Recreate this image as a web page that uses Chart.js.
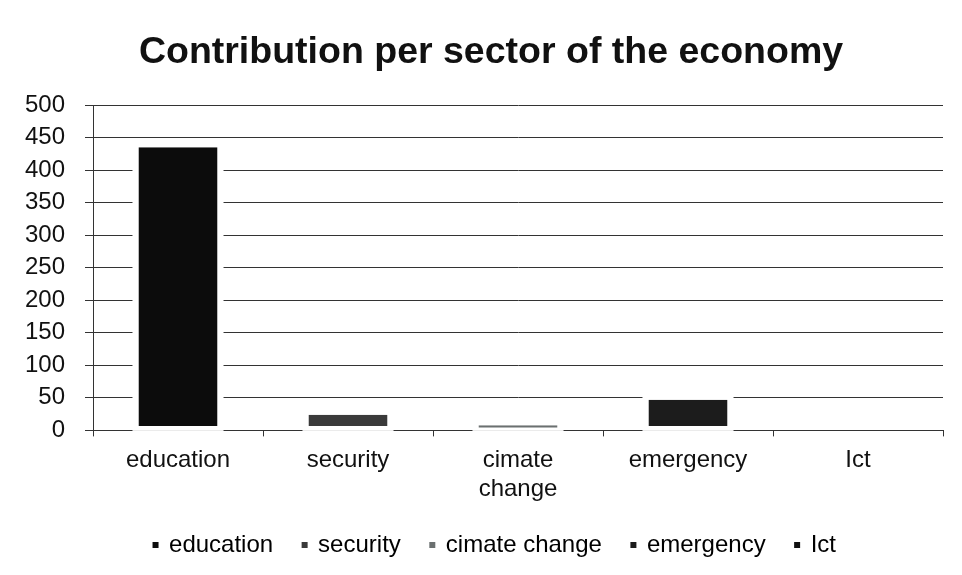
<!DOCTYPE html>
<html>
<head>
<meta charset="utf-8">
<script src="https://cdn.jsdelivr.net/npm/chart.js@4.4.1/dist/chart.umd.min.js"></script>
<style>
  html, body { margin: 0; padding: 0; background: #fff; }
  #wrap { width: 962px; height: 575px; }
</style>
</head>
<body>
<div id="wrap"><canvas id="grafico"></canvas></div>
<script>
const sectors = ["education", "security", "cimate change", "emergency", "Ict"];
const tickLabels = ["education", "security", ["cimate", "change"], "emergency", "Ict"];
const contribution = [435, 24, 8, 47, 0];
const barColors = ["#0c0c0c", "#3a3a3a", "#6b7070", "#1c1c1c", "#111111"];

const fuente = "'Liberation Sans', Arial, sans-serif";

// white gap round each bar, hides the grid lines like the original
const barHalo = {
    id: "barHalo",
    beforeDatasetsDraw(chart) {
        const ctx = chart.ctx;
        const meta = chart.getDatasetMeta(0);
        ctx.save();
        ctx.fillStyle = "#ffffff";
        meta.data.forEach(el => {
            const { x, y, base, width } = el.getProps(["x", "y", "base", "width"], true);
            if (base - y < 1) return;
            ctx.fillRect(x - width / 2 - 6, y - 6, width + 12, base - y + 7);
        });
        ctx.restore();
    }
};

// small shifts of title and legend so they sit where the original has them
const nudge = {
    id: "nudge",
    afterLayout(chart) {
        if (chart.titleBlock) {
            chart.titleBlock.left += 7;
            chart.titleBlock.right += 7;
        }
        if (chart.legend) {
            chart.legend.left += 11;
            chart.legend.right += 11;
            chart.legend.top -= 11;
            chart.legend.bottom -= 11;
        }
    }
};

new Chart(document.getElementById("grafico"), {
    type: "bar",
    data: {
        labels: tickLabels,
        datasets: [{
            label: "Contribution",
            data: contribution,
            backgroundColor: barColors,
            borderColor: "#ffffff",
            borderWidth: { top: 0, left: 0, right: 0, bottom: 4 },
            borderSkipped: false,
            categoryPercentage: 1,
            barPercentage: 0.465
        }]
    },
    options: {
        responsive: true,
        maintainAspectRatio: false,
        animation: false,
        layout: { padding: { left: 25, right: 19, top: 0, bottom: -3 } },
        plugins: {
            title: {
                display: true,
                text: "Contribution per sector of the economy",
                color: "#111",
                font: { family: fuente, size: 37.5, weight: "bold" },
                padding: { top: 30, bottom: 30 }
            },
            legend: {
                position: "bottom",
                labels: {
                    color: "#111",
                    font: { family: fuente, size: 24 },
                    usePointStyle: true,
                    pointStyle: "rect",
                    boxWidth: 3,
                    boxHeight: 6,
                    padding: 30,
                    generateLabels: () => sectors.map((s, i) => ({
                        text: s,
                        fillStyle: barColors[i],
                        strokeStyle: barColors[i],
                        lineWidth: 0,
                        pointStyle: "rect",
                        hidden: false,
                        index: i
                    }))
                }
            },
            tooltip: { enabled: false }
        },
        scales: {
            x: {
                z: 1,
                offset: true,
                grid: { display: true, drawOnChartArea: false, drawTicks: true, tickLength: 6, color: "#333", offset: true },
                border: { display: true, color: "#333", width: 1 },
                ticks: { color: "#111", font: { family: fuente, size: 24 }, padding: 10, maxRotation: 0, autoSkip: false }
            },
            y: {
                min: 0,
                max: 500,
                afterFit: scale => { scale.width = 68; },
                grid: { color: "#333", lineWidth: 1, tickLength: 8 },
                border: { display: true, color: "#333", width: 1 },
                ticks: { stepSize: 50, autoSkip: false, color: "#111", font: { family: fuente, size: 24 }, padding: 20 }
            }
        }
    },
    plugins: [barHalo, nudge]
});
</script>
</body>
</html>
